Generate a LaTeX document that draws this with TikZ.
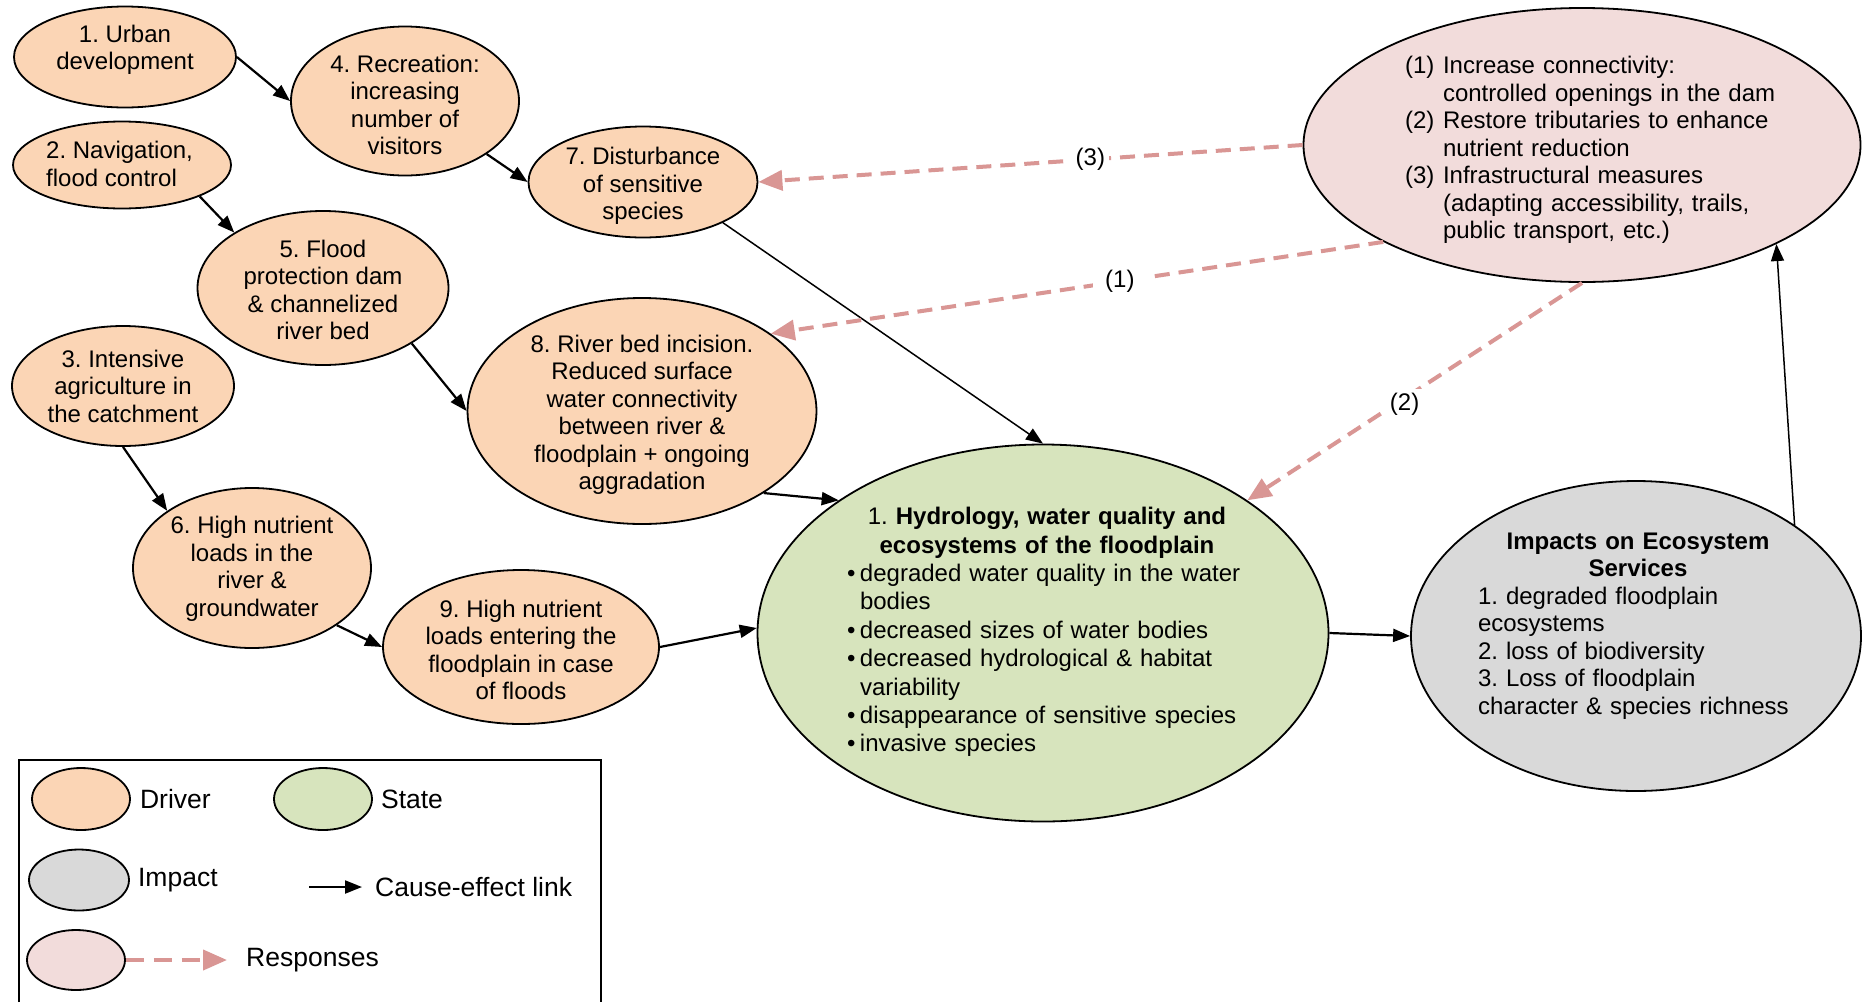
\documentclass[tikz,border=0pt]{standalone}
\usepackage{fontspec}
\setmainfont{Liberation Sans}
\usetikzlibrary{arrows.meta,shapes,positioning,calc}
\definecolor{driverfill}{RGB}{251,213,181}
\definecolor{statefill}{RGB}{215,228,189}
\definecolor{impactfill}{RGB}{217,217,217}
\definecolor{respfill}{RGB}{242,220,219}
\definecolor{respline}{RGB}{217,150,148}

\frenchspacing
\newcommand{\sitem}[1]{\par\hangindent=13pt\hangafter=1\noindent\makebox[13pt][l]{\textbullet}#1}
\newcommand{\ritem}[2]{\par\hangindent=38pt\hangafter=1\noindent\makebox[38pt][l]{#1}#2}

\tikzset{
    blob/.style={ellipse, draw=black, line width=1.8pt, inner sep=0pt},
    driver/.style={blob, fill=driverfill},
    statenode/.style={blob, fill=statefill},
    impactnode/.style={blob, fill=impactfill},
    respnode/.style={blob, fill=respfill},
    txt/.style={align=center, inner sep=0pt},
    lgtxt/.style={inner sep=0pt, font=\fontsize{26.5}{30}\selectfont},
    link/.style={line width=2.2pt, -{Triangle[length=17pt,width=13pt]}},
    resplink/.style={respline, line width=4pt, dash pattern=on 15pt off 9pt, -{Triangle[length=24pt,width=20pt]}},
    lbl/.style={fill=white, text=black, inner sep=4pt},
}

\begin{document}
\begin{tikzpicture}[x=1pt,y=-1pt,font=\fontsize{24}{27.5}\selectfont]
    \path[use as bounding box, fill=white] (0,0) rectangle (1863,1002);

    % drivers
    \node[driver, minimum width=222pt, minimum height=101pt] (d1) at (125,57) {};
    \node[driver, minimum width=218pt, minimum height=87pt] (d2) at (122,165) {};
    \node[driver, minimum width=222pt, minimum height=120pt] (d3) at (123,386) {};
    \node[driver, minimum width=228pt, minimum height=149pt] (d4) at (405,101) {};
    \node[driver, minimum width=251pt, minimum height=154pt] (d5) at (323,288) {};
    \node[driver, minimum width=238pt, minimum height=160pt] (d6) at (252,568) {};
    \node[driver, minimum width=229pt, minimum height=111pt] (d7) at (643,182) {};
    \node[driver, minimum width=349pt, minimum height=226pt] (d8) at (642,411) {};
    \node[driver, minimum width=276pt, minimum height=154pt] (d9) at (521,647) {};

    \node[txt] (t1) at (125,50) {1. Urban\\development};
    \node[txt, align=left, anchor=west] (t2) at (46,164) {2. Navigation,\\flood control};
    \node[txt] (t3) at (123,386) {3. Intensive\\agriculture in\\the catchment};
    \node[txt] (t4) at (405,105) {4. Recreation:\\increasing\\number of\\visitors};
    \node[txt] (t5) at (323,290) {5. Flood\\protection dam\\\& channelized\\river bed};
    \node[txt] (t6) at (252,569) {6. High nutrient\\loads in the\\river \&\\groundwater};
    \node[txt] (t7) at (643,186) {7. Disturbance\\of sensitive\\species};
    \node[txt] (t8) at (642,415) {8. River bed incision.\\Reduced surface\\water connectivity\\between river \&\\floodplain + ongoing\\aggradation};
    \node[txt] (t9) at (521,650) {9. High nutrient\\loads entering the\\floodplain in case\\of floods};

    % state, impact, responses
    \node[statenode, minimum width=571pt, minimum height=377pt] (hydro) at (1043,633) {};
    \node[impactnode, minimum width=450pt, minimum height=310pt] (impacts) at (1636,636) {};
    \node[respnode, minimum width=557pt, minimum height=274pt] (responses) at (1582,145) {};

    \node[inner sep=0pt, text width=400pt, font=\fontsize{24}{28.4}\selectfont] (thydro) at (1047,632) {\centering 1. \textbf{Hydrology, water quality and}\\\textbf{ecosystems of the floodplain}\par\raggedright
    \sitem{degraded water quality in the water\newline bodies}
    \sitem{decreased sizes of water bodies}
    \sitem{decreased hydrological \& habitat\newline variability}
    \sitem{disappearance of sensitive species}
    \sitem{invasive species}\par};
    \node[inner sep=0pt, text width=320pt] (timpacts) at (1638,626) {\centering\textbf{Impacts on Ecosystem}\\\textbf{Services}\par\raggedright 1. degraded floodplain\\ecosystems\\2. loss of biodiversity\\3. Loss of floodplain\\character \& species richness\par};
    \node[inner sep=0pt, text width=380pt] (tresp) at (1595,145) {\raggedright
    \ritem{(1)}{Increase connectivity:\newline controlled openings in the dam}
    \ritem{(2)}{Restore tributaries to enhance\newline nutrient reduction}
    \ritem{(3)}{Infrastructural measures\newline (adapting accessibility, trails,\newline public transport, etc.)}\par};

    % cause-effect links
    \draw[link] (d1.east) -- (d4.west);
    \draw[link] (d4.-33) -- (d7.west);
    \draw[link] (d2.-22) -- (d5.148);
    \draw[link] (d5.-32) -- (d8.west);
    \draw[link] (d3.south) -- (d6.146);
    \draw[link] (d6.-34) -- (d9.west);
    \draw[link] (d9.east) -- (hydro.179);
    \draw[link] (d8.-34) -- (hydro.147);
    \draw[link, line width=1.5pt] (d7.-27) -- (hydro.north);
    \draw[link] (hydro.east) -- (impacts.west);
    \draw[link, line width=1.5pt] (impacts.35) -- (responses.-27);

    % responses
    \draw[resplink] (responses.west) -- node[lbl, pos=0.39] (l3) {(3)} (d7.east);
    \draw[resplink] (responses.206) -- node[lbl, pos=0.43, inner xsep=12pt] (l1) {(1)} (d8.31);
    \draw[resplink] (responses.south) -- node[lbl, pos=0.56, xshift=10pt] (l2) {(2)} (hydro.33);

    % legend
    \draw[line width=2pt] (19,1002) -- (19,760) -- (601,760) -- (601,1002);
    \node[driver, minimum width=98pt, minimum height=62pt] (lgdriver) at (81,799) {};
    \node[lgtxt, right=9pt of lgdriver] (lgdrivertxt) {Driver};
    \node[statenode, minimum width=98pt, minimum height=62pt] (lgstate) at (323,799) {};
    \node[lgtxt, right=8pt of lgstate] (lgstatetxt) {State};
    \node[impactnode, minimum width=100pt, minimum height=61pt] (lgimpact) at (79,880) {};
    \node[lgtxt, right=8pt of lgimpact] (lgimpacttxt) {Impact};
    \coordinate (lglinkA) at (309,887);
    \coordinate (lglinkB) at (362,887);
    \draw[link] (lglinkA) -- (lglinkB);
    \node[lgtxt, right=13pt of lglinkB] (lglinktxt) {Cause-effect link};
    \node[respnode, minimum width=98pt, minimum height=60pt] (lgresp) at (76,960) {};
    \coordinate (lgrespB) at (227,960);
    \draw[resplink, dash pattern=on 18pt off 10pt] (lgresp.east) -- (lgrespB);
    \node[lgtxt, right=19pt of lgrespB] (lgresptxt) {Responses};
\end{tikzpicture}
\end{document}
